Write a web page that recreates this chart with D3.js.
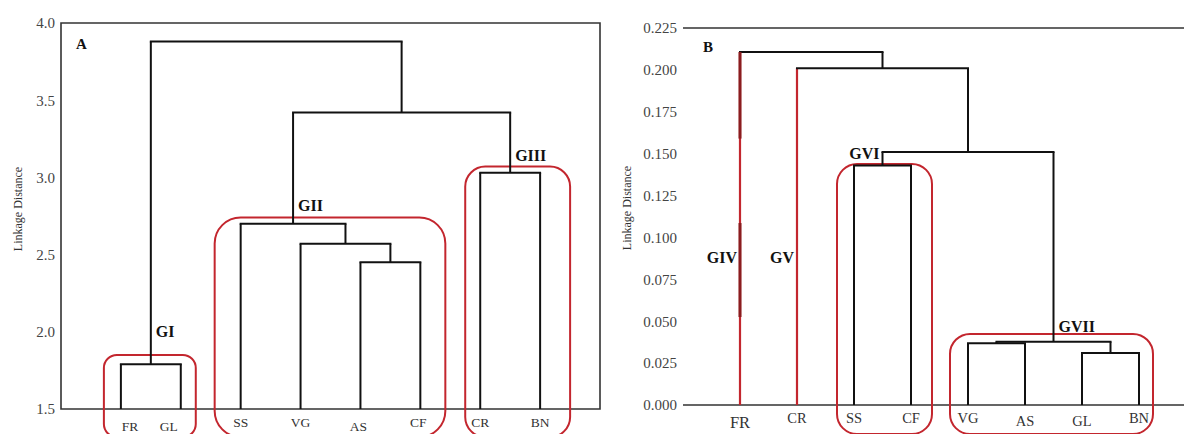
<!DOCTYPE html>
<html>
<head>
<meta charset="utf-8">
<script src="https://cdn.jsdelivr.net/npm/d3@7"></script>
<style>
  body { margin: 0; background: #fff; }
  svg { display: block; font-family: "Liberation Serif", "Times New Roman", serif; }
</style>
</head>
<body>
<div id="chart"></div>
<script>
// ---- Data ----
const leavesA = ["FR", "GL", "SS", "VG", "AS", "CF", "CR", "BN"];
// merges: [left, right, linkage distance]; "m#" refers to an earlier merge
const mergesA = [
    ["FR", "GL", 1.79],
    ["AS", "CF", 2.45],
    ["VG", "m1", 2.57],
    ["SS", "m2", 2.70],
    ["CR", "BN", 3.03],
    ["m3", "m4", 3.42],
    ["m0", "m5", 3.88]
];
const ticksA = [1.5, 2.0, 2.5, 3.0, 3.5, 4.0];
// groups: [label, first leaf, last leaf, box top value, label anchor node, label value]
const groupsA = [
    ["GI", "FR", "GL", 1.85, "m0", 2.00],
    ["GII", "SS", "CF", 2.74, "m3", 2.82],
    ["GIII", "CR", "BN", 3.07, "m4", 3.14]
];

const leavesB = ["FR", "CR", "SS", "CF", "VG", "AS", "GL", "BN"];
const mergesB = [
    ["SS", "CF", 0.143],
    ["VG", "AS", 0.0368],
    ["GL", "BN", 0.031],
    ["m1", "m2", 0.0378],
    ["m0", "m3", 0.151],
    ["CR", "m4", 0.201],
    ["FR", "m5", 0.2107]
];
const ticksB = [0.000, 0.025, 0.050, 0.075, 0.100, 0.125, 0.150, 0.175, 0.200, 0.225];
const groupsB = [
    ["GIV", "FR", "FR", null, "FR", 0.088],
    ["GV", "CR", "CR", null, "CR", 0.088],
    ["GVI", "SS", "CF", 0.1438, "m0", 0.150],
    ["GVII", "VG", "BN", 0.0424, "m3", 0.047]
];
const redLeavesB = ["FR", "CR"];
const frOverlayB = [[0.2107, 0.159], [0.1086, 0.0525]];

// ---- Styles ----
const RED = "#c3262e";
const INK = "#111";
const FRAME = "#333";
const SERIF = "'Liberation Serif', 'Times New Roman', serif";

const svg = d3.select("#chart").append("svg")
    .attr("width", 1184)
    .attr("height", 434);

// per-panel layout
const panelA = {
    left: 61, right: 600, top: 23, bottom: 409,
    domain: [1.5, 4.0], ticks: ticksA, fmt: d3.format(".1f"),
    leaves: leavesA, merges: mergesA, groups: groupsA, redLeaves: [],
    letter: "A", letterX: 76, letterY: 49, titleX: 22, titleY: 209,
    tickFont: 15, leafFont: 13.5,
    leafNudge: { FR: [9, 4], GL: [-12, 4], AS: [-2, 4], CF: [-2, 0] },
    boxPad: { GI: [17, 15], GII: [26, 25], GIII: [15, 30] },
    boxRadius: { GI: 13, GII: 26, GIII: 20 },
    labelSide: { GI: "start", GII: "start", GIII: "start" },
    boxBottom: 437, frameRight: true
};
const panelB = {
    left: 683, right: 1196, top: 28, bottom: 405,
    domain: [0, 0.225], ticks: ticksB, fmt: d3.format(".3f"),
    leaves: leavesB, merges: mergesB, groups: groupsB, redLeaves: redLeavesB,
    letter: "B", letterX: 703, letterY: 52, titleX: 631, titleY: 208,
    tickFont: 15, leafFont: 14.5,
    leafNudge: { FR: [0, 4], AS: [0, 3], GL: [0, 3] },
    boxPad: { GVI: [17, 21], GVII: [18, 14] },
    boxRadius: { GVI: 20, GVII: 20 },
    labelSide: { GIV: "end", GV: "end", GVI: "end", GVII: "start" },
    boxBottom: 434, frameRight: false
};

function drawPanel(p) {
    const x = d3.scalePoint().domain(p.leaves).range([p.left, p.right]).padding(1);
    const y = d3.scaleLinear().domain(p.domain).range([p.bottom, p.top]);
    const g = svg.append("g");

    // node positions
    const pos = {};
    p.leaves.forEach(l => { pos[l] = { x: x(l), h: p.domain[0] }; });
    p.merges.forEach((m, i) => {
        pos["m" + i] = { x: (pos[m[0]].x + pos[m[1]].x) / 2, h: m[2] };
    });

    // frame
    const frame = d3.path();
    frame.moveTo(p.left, p.top);
    frame.lineTo(Math.min(p.right, 1190), p.top);
    if (p.frameRight) frame.lineTo(p.right, p.bottom);
    else frame.moveTo(Math.min(p.right, 1190), p.bottom);
    frame.lineTo(p.left, p.bottom);
    frame.closePath();
    g.append("path")
        .attr("d", frame.toString())
        .attr("fill", "none")
        .attr("stroke", FRAME)
        .attr("stroke-width", 1.6);

    // y axis labels
    const axis = g.append("g")
        .attr("transform", `translate(${p.left},0)`)
        .call(d3.axisLeft(y).tickValues(p.ticks).tickFormat(p.fmt).tickSize(0).tickPadding(6));
    axis.attr("font-family", null);
    axis.select(".domain").remove();
    axis.selectAll("text")
        .style("font-family", SERIF)
        .style("font-size", p.tickFont + "px")
        .attr("fill", "#444");

    g.append("text")
        .attr("transform", `translate(${p.titleX},${p.titleY}) rotate(-90)`)
        .attr("text-anchor", "middle")
        .attr("font-size", 12)
        .attr("fill", "#333")
        .text("Linkage Distance");

    g.append("text")
        .attr("x", p.letterX)
        .attr("y", p.letterY)
        .attr("font-size", 15)
        .attr("font-weight", "bold")
        .attr("fill", INK)
        .text(p.letter);

    // red group boxes
    p.groups.filter(d => d[3] !== null).forEach(d => {
        const pad = p.boxPad[d[0]];
        const x0 = x(d[1]) - pad[0];
        const x1 = x(d[2]) + pad[1];
        const y0 = y(d[3]);
        g.append("rect")
            .attr("x", x0)
            .attr("y", y0)
            .attr("width", x1 - x0)
            .attr("height", p.boxBottom - y0)
            .attr("rx", p.boxRadius[d[0]])
            .attr("fill", "none")
            .attr("stroke", RED)
            .attr("stroke-width", 2);
    });

    // dendrogram links
    const links = g.append("g").attr("fill", "none").attr("stroke-width", 2);
    p.merges.forEach(m => {
        const a = pos[m[0]], b = pos[m[1]];
        [[m[0], a], [m[1], b]].forEach(([name, c]) => {
            links.append("line")
                .attr("x1", c.x).attr("x2", c.x)
                .attr("y1", y(c.h)).attr("y2", y(m[2]))
                .attr("stroke", p.redLeaves.includes(name) ? RED : INK)
                .attr("stroke-width", p.redLeaves.includes(name) ? 2.2 : 2);
        });
        links.append("line")
            .attr("x1", a.x - 1).attr("x2", b.x + 1)
            .attr("y1", y(m[2])).attr("y2", y(m[2]))
            .attr("stroke", INK);
    });

    // group labels
    p.groups.forEach(d => {
        const side = p.labelSide[d[0]];
        const ax = pos[d[4]].x;
        g.append("text")
            .attr("x", side === "start" ? ax + 5 : ax - 3)
            .attr("y", y(d[5]))
            .attr("dy", "0.35em")
            .attr("text-anchor", side)
            .attr("font-size", 16)
            .attr("font-weight", "bold")
            .attr("fill", INK)
            .text(d[0]);
    });

    // leaf labels
    p.leaves.forEach(l => {
        const n = p.leafNudge[l] || [0, 0];
        g.append("text")
            .attr("x", x(l) + n[0])
            .attr("y", p.bottom + 13 + n[1])
            .attr("dy", "0.35em")
            .attr("text-anchor", "middle")
            .attr("font-size", l === "FR" && p.letter === "B" ? 16.5 : p.leafFont)
            .attr("fill", "#333")
            .text(l);
    });

    return { x, y, g };
}

drawPanel(panelA);
const b = drawPanel(panelB);

// darker overlay on FR branch in panel B
frOverlayB.forEach(s => {
    b.g.append("line")
        .attr("x1", b.x("FR")).attr("x2", b.x("FR"))
        .attr("y1", b.y(s[0])).attr("y2", b.y(s[1]))
        .attr("stroke", "#8a1c1f")
        .attr("stroke-width", 3);
});
</script>
</body>
</html>
